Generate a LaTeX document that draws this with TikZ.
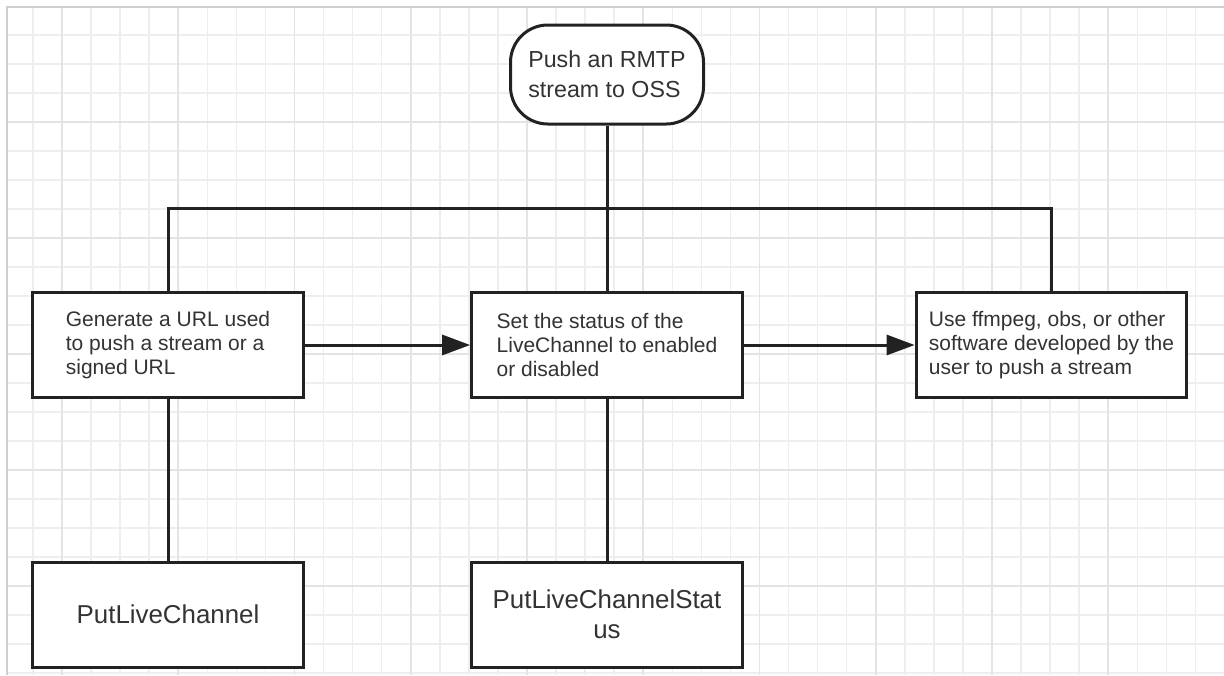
\documentclass[tikz,border=0pt]{standalone}
\usepackage{fontspec}
\setmainfont{Liberation Sans}
\usetikzlibrary{arrows.meta}
\definecolor{txt}{HTML}{333333}
\definecolor{minorc}{HTML}{EEEEEE}
\definecolor{majorc}{HTML}{E4E4E4}
\definecolor{borderc}{HTML}{CFCFCF}
\definecolor{linec}{HTML}{222222}
\tikzset{
  minorline/.style={draw=minorc, line width=1.1pt},
  majorline/.style={draw=majorc, line width=1.3pt},
  stepbox/.style={draw=linec, line width=2.25pt, fill=white, rectangle,
    minimum width=203pt, minimum height=78.75pt, inner sep=0pt,
    align=left, text=txt, font=\fontsize{15.75pt}{18pt}\selectfont},
  apibox/.style={stepbox, align=center, font=\fontsize{19.4pt}{22.5pt}\selectfont},
  startbox/.style={draw=linec, line width=2.25pt, fill=white, rectangle,
    rounded corners=28pt, minimum width=144.75pt, minimum height=74.25pt,
    inner sep=0pt, align=left, text=txt, font=\fontsize{17.4pt}{22.5pt}\selectfont},
  conn/.style={draw=linec, line width=2.25pt},
  arr/.style={conn, -{Triangle[length=21pt, width=15pt]}}
}
\begin{document}
\begin{tikzpicture}[x=0.75pt, y=-0.75pt]
\useasboundingbox (0,0) rectangle (1224,675);
\fill[white] (0,0) rectangle (1224,675);
\begin{scope}
\clip (7,7) rectangle (1224,675);
\foreach \i in {0,...,41} {
  \draw[minorline] ({32.94+29.0625*\i},7) -- ({32.94+29.0625*\i},675);
}
\foreach \j in {0,...,22} {
  \draw[minorline] (7,{35+29*\j}) -- (1224,{35+29*\j});
}
\foreach \i in {0,...,9} {
  \draw[majorline] ({62+116.25*\i},7) -- ({62+116.25*\i},675);
}
\foreach \j in {0,...,4} {
  \draw[majorline] (7,{122+116*\j}) -- (1224,{122+116*\j});
}
\end{scope}
\draw[draw=borderc, line width=1.5pt] (7,675) -- (7,7) -- (1224,7);

\node[startbox] (start) at (607,74.5) {Push an RMTP\\stream to OSS};
\node[stepbox] (gen) at (168,345) {Generate a URL used\\to push a stream or a\\signed URL};
\node[stepbox] (status) at (607,345) {Set the status of the\\LiveChannel to enabled\\or disabled};
\node[stepbox] (push) at (1051.5,345) {Use ffmpeg, obs, or other\\software developed by the\\user to push a stream};
\node[apibox] (api1) at (168,614.5) {PutLiveChannel};
\node[apibox] (api2) at (607,614.5) {PutLiveChannelStat\\us};

\coordinate (bus) at (607,208);
\draw[conn] (start.south) -- (bus);
\draw[conn] (gen.north) |- (bus);
\draw[conn] (bus) -| (push.north);
\draw[conn] (bus) -- (status.north);
\draw[arr] (gen.east) -- (status.west);
\draw[arr] (status.east) -- (push.west);
\draw[conn] (gen.south) -- (api1.north);
\draw[conn] (status.south) -- (api2.north);
\end{tikzpicture}
\end{document}
